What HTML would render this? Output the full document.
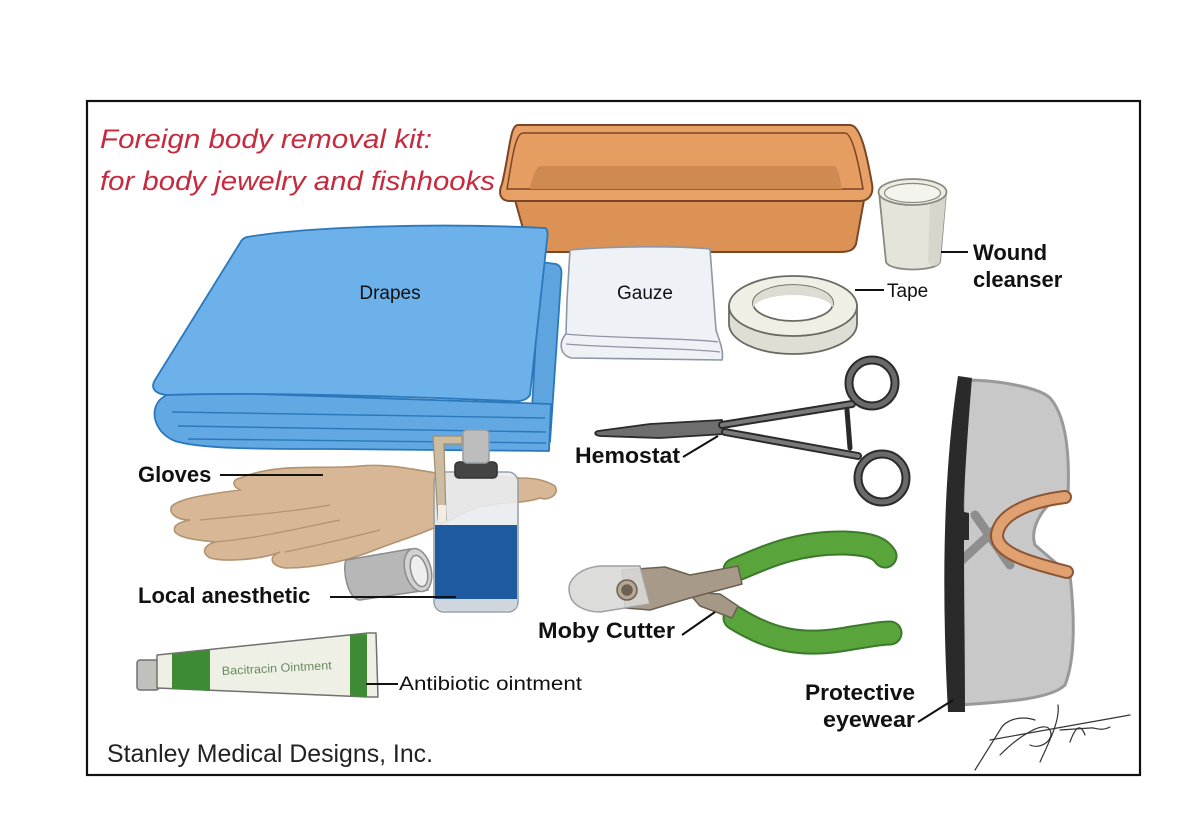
<!DOCTYPE html>
<html><head><meta charset="utf-8"><style>
html,body{margin:0;padding:0;background:#fff;}
svg{display:block;}
.lb{font-family:"Liberation Sans",Arial,sans-serif;font-weight:bold;font-size:22px;fill:#111;}
.lr{font-family:"Liberation Sans",Arial,sans-serif;font-size:19px;fill:#111;}
</style></head><body>
<svg width="1200" height="840" viewBox="0 0 1200 840" xmlns="http://www.w3.org/2000/svg">
<rect width="1200" height="840" fill="#fff"/>
<rect x="87" y="101" width="1053" height="674" fill="#fff" stroke="#111" stroke-width="2.2"/>

<!-- Title -->
<g font-family="'Liberation Sans',sans-serif" font-style="italic" font-size="27" fill="#c62a3e">
<text x="100" y="148" textLength="332" lengthAdjust="spacingAndGlyphs">Foreign body removal kit:</text>
<text x="100" y="190" textLength="395" lengthAdjust="spacingAndGlyphs">for body jewelry and fishhooks</text>
</g>

<!-- Basin -->
<g stroke="#7a4626" stroke-width="2" stroke-linejoin="round">
<path d="M515,200 L864,200 L856,244 C854,250 849,252 840,252 L540,252 C532,252 528,248 527,243 Z" fill="#dc9255"/>
<path d="M518,125 L850,125 C860,125 866,150 872,184 C874,195 868,201 860,201 L510,201 C500,201 498,193 502,184 C510,150 510,125 518,125 Z" fill="#e7a065"/>
<path d="M523,133 L845,133 C852,133 858,160 863,189 L507,189 C512,160 515,133 523,133 Z" fill="#e59d62" stroke-width="1.5"/>
<path d="M541,166 L834,166 C838,166 840,178 842,189 L530,189 C532,178 536,166 541,166 Z" fill="#cf8a52" stroke="none"/>
</g>

<!-- Wound cleanser cup -->
<g stroke="#8a8a80" stroke-width="1.8">
<path d="M879,192 L886,262 C890,272 936,272 940,262 L946,192 Z" fill="#e4e4da"/>
<path d="M930,200 L928,262 C932,268 938,266 940,262 L946,195 Z" fill="#d6d6cc" stroke="none"/>
<ellipse cx="912.5" cy="192" rx="34" ry="13" fill="#ececE4"/>
<ellipse cx="912.5" cy="193" rx="28" ry="9.5" fill="#f4f4ee" stroke-width="1.2"/>
</g>
<line x1="941" y1="252" x2="968" y2="252" stroke="#111" stroke-width="2"/>
<text class="lb" x="973" y="260">Wound</text>
<text class="lb" x="973" y="287">cleanser</text>

<!-- Drapes -->
<g stroke="#2b78bb" stroke-width="1.8" stroke-linejoin="round">
<path d="M540,262 L556,264 C562,266 562,272 561,280 L550,442 L530,446 Z" fill="#5ea5df"/>
<path d="M165,396 C148,405 152,432 175,441 C200,449 260,449 330,449 L549,451 L551,404 L172,391 Z" fill="#62a8e2"/>
<path d="M172,412 L545,418 M178,426 L546,432 M188,439 L546,443" fill="none" stroke-width="1.4"/>
<path d="M247,237 C300,228 420,222 545,228 C548,229 548,235 547,240 L530,395 C527,400 520,402 510,401 C400,396 250,392 170,395 C155,395 150,388 155,380 L240,243 C242,239 244,238 247,237 Z" fill="#6cb1e9"/>
</g>
<text class="lr" x="390" y="299" text-anchor="middle" font-size="18" fill="#1a2a44">Drapes</text>

<!-- Gauze -->
<g stroke="#8e96a4" stroke-width="1.6" stroke-linejoin="round">
<path d="M570,250 C610,246 680,246 710,249 L716,330 C720,342 724,352 722,360 L572,358 C560,356 558,342 566,334 L567,300 Z" fill="#eef1f6"/>
<path d="M566,334 C600,338 690,338 718,342 M566,344 C610,348 690,348 720,352" fill="none" stroke-width="1.3"/>
</g>
<text class="lr" x="645" y="299" text-anchor="middle" font-size="18" fill="#1a2230">Gauze</text>

<!-- Tape -->
<g stroke="#6a6a62" stroke-width="1.8">
<path d="M729,306 L729,324 A64,30 0 0 0 857,324 L857,306 Z" fill="#deded4"/>
<ellipse cx="793" cy="306" rx="64" ry="30" fill="#efefe6"/>
<ellipse cx="793" cy="303" rx="40" ry="18" fill="#fff"/>
<path d="M753,303 A40,18 0 0 1 833,303 L833,309 A40,14 0 0 0 753,309 Z" fill="#dcdcd2" stroke="none"/>
</g>
<line x1="855" y1="290" x2="884" y2="290" stroke="#111" stroke-width="2"/>
<text class="lr" x="887" y="297" font-size="18">Tape</text>

<!-- Gloves -->
<path d="M240,478 C280,462 320,470 360,466 C400,462 440,478 470,475 L520,478 C535,478 545,480 555,486 C560,495 548,501 540,498 C520,505 500,500 470,510 L440,525 C420,535 400,540 380,548 C350,560 320,568 285,568 C270,566 268,556 280,552 C260,560 225,562 210,558 C200,552 205,545 215,542 C195,540 180,538 175,532 C172,525 180,522 190,520 C175,520 168,512 172,506 C180,498 210,494 240,490 C232,486 232,480 240,478 Z" fill="#d8b796" stroke="#b3926f" stroke-width="1.6"/>
<path d="M200,520 C250,515 290,512 330,505 M215,542 C260,538 300,528 340,520 M285,552 C320,545 360,535 380,530" fill="none" stroke="#b3926f" stroke-width="1.2"/>
<line x1="220" y1="475" x2="323" y2="475" stroke="#111" stroke-width="2"/>
<text class="lb" x="138" y="482">Gloves</text>

<!-- Cap of bottle -->
<g stroke="#8c8c8c" stroke-width="1.5">
<path d="M346,560 L410,549 L428,590 L360,600 C348,600 342,570 346,560 Z" fill="#b7b7b7"/>
<ellipse cx="418" cy="570" rx="13" ry="22" transform="rotate(-15 418 570)" fill="#d2d2d2"/>
<ellipse cx="419" cy="571" rx="8" ry="16" transform="rotate(-15 419 571)" fill="#eee"/>
</g>

<!-- Bottle -->
<g stroke="#9aa0a6" stroke-width="1.6">
<rect x="434" y="472" width="84" height="140" rx="10" fill="#e9ecef" fill-opacity="0.9"/>
<rect x="435" y="525" width="82" height="74" fill="#1d5aa0" stroke="none"/>
<path d="M435,599 L517,599 L517,604 C517,610 510,611 500,611 L450,611 C440,611 435,608 435,604 Z" fill="#cfd6dd" stroke="none"/>
<rect x="455" y="462" width="42" height="16" rx="4" fill="#444" stroke="#333"/>
<rect x="463" y="430" width="26" height="33" rx="4" fill="#bdbdbd"/>
<path d="M433,436 L462,436 L462,444 L444,444 L446,520 L438,520 Z" fill="#cbbca2" stroke="#a08e70" stroke-width="1.2"/>
<rect x="438" y="505" width="8" height="16" fill="#f1ede4" stroke="none"/>
</g>
<line x1="330" y1="597" x2="456" y2="597" stroke="#111" stroke-width="2"/>
<text class="lb" x="138" y="603">Local anesthetic</text>

<!-- Ointment tube -->
<g stroke="#707070" stroke-width="1.5" stroke-linejoin="round">
<rect x="137" y="660" width="22" height="30" rx="3" fill="#c0c0bc"/>
<path d="M157,655 L368,633 L376,633 L378,697 L368,697 L157,688 Z" fill="#eef0e6"/>
<path d="M172,654 L210,650 L210,691 L172,689 Z" fill="#3f8a35" stroke="none"/>
<path d="M350,635 L367,634 L367,697 L350,696 Z" fill="#3f8a35" stroke="none"/>
</g>
<text x="222" y="675" font-family="'Liberation Sans',sans-serif" font-size="12" fill="#6a8a60" transform="rotate(-3 222 675)" textLength="110" lengthAdjust="spacingAndGlyphs">Bacitracin Ointment</text>
<line x1="366" y1="684" x2="398" y2="684" stroke="#111" stroke-width="2"/>
<text class="lr" x="399" y="690" textLength="183" lengthAdjust="spacingAndGlyphs">Antibiotic ointment</text>

<!-- Hemostat -->
<g stroke="#2a2a2a" stroke-linejoin="round" stroke-linecap="round">
<path d="M598,431 L650,424 L722,420 L725,434 L660,438 L600,436 C594,435 594,432 598,431 Z" fill="#6e6e6e" stroke-width="1.8"/>
<path d="M722,425 L852,404" fill="none" stroke-width="8"/>
<path d="M722,425 L852,404" fill="none" stroke="#7a7a7a" stroke-width="4"/>
<path d="M725,432 L858,456" fill="none" stroke-width="8"/>
<path d="M725,432 L858,456" fill="none" stroke="#7a7a7a" stroke-width="4"/>
<path d="M847,410 L850,448" fill="none" stroke-width="5"/>
<circle cx="872" cy="383" r="23" fill="none" stroke-width="9"/>
<circle cx="872" cy="383" r="23" fill="none" stroke="#6a6a6a" stroke-width="5"/>
<circle cx="882" cy="478" r="24" fill="none" stroke-width="9"/>
<circle cx="882" cy="478" r="24" fill="none" stroke="#6a6a6a" stroke-width="5"/>
</g>
<line x1="683" y1="457" x2="718" y2="436" stroke="#111" stroke-width="2"/>
<text class="lb" x="575" y="463" textLength="105" lengthAdjust="spacingAndGlyphs">Hemostat</text>

<!-- Moby cutter -->
<g stroke-linecap="round" fill="none">
<path d="M735,570 C770,555 800,542 845,543 C870,544 880,548 885,556" stroke="#3a7a2a" stroke-width="25"/>
<path d="M735,570 C770,555 800,542 845,543 C870,544 880,548 885,556" stroke="#5aa43c" stroke-width="21"/>
<path d="M735,618 C770,640 800,646 840,640 C865,636 880,633 890,633" stroke="#3a7a2a" stroke-width="25"/>
<path d="M735,618 C770,640 800,646 840,640 C865,636 880,633 890,633" stroke="#5aa43c" stroke-width="21"/>
</g>
<g stroke="#6c6050" stroke-width="1.5" stroke-linejoin="round">
<path d="M688,592 L720,594 L738,606 L732,618 L700,606 Z" fill="#a59886"/>
<path d="M622,570 L665,567 L690,575 L738,566 L742,584 L690,598 L650,610 L625,608 Z" fill="#a89a88"/>
<path d="M570,595 C565,580 580,568 600,566 L640,566 L650,604 L600,612 C585,612 572,605 570,595 Z" fill="#d8d8d6" fill-opacity="0.9" stroke="#a0a0a0"/>
<circle cx="627" cy="590" r="10" fill="#b5a894"/>
<circle cx="627" cy="590" r="5" fill="#6c6050"/>
</g>
<line x1="682" y1="635" x2="715" y2="612" stroke="#111" stroke-width="2"/>
<text class="lb" x="538" y="638" textLength="137" lengthAdjust="spacingAndGlyphs">Moby Cutter</text>

<!-- Eyewear -->
<path d="M965,380 C1000,380 1040,388 1050,398 C1065,415 1070,450 1068,495 L1055,500 C1040,510 1030,530 1035,545 L1070,575 C1075,620 1075,660 1065,685 C1050,700 1000,702 960,705 Z" fill="#c8c8c8" stroke="#999" stroke-width="3"/>
<path d="M975,515 L1010,565 M962,560 L1000,525" stroke="#8e8e8e" stroke-width="9" stroke-linecap="round"/>
<path d="M1065,497 C1040,500 1000,510 997,535 C996,555 1040,565 1067,572" fill="none" stroke="#8a5634" stroke-width="14" stroke-linecap="round"/>
<path d="M1065,497 C1040,500 1000,510 997,535 C996,555 1040,565 1067,572" fill="none" stroke="#e0a070" stroke-width="10" stroke-linecap="round"/>
<path d="M958,376 L972,378 C966,450 963,510 964,512 L969,513 L969,540 L964,540 C964,600 965,660 965,712 L948,712 C942,600 942,480 958,376 Z" fill="#2a2a2a"/>
<line x1="918" y1="722" x2="953" y2="700" stroke="#111" stroke-width="2"/>
<text class="lb" x="805" y="700" textLength="110" lengthAdjust="spacingAndGlyphs">Protective</text>
<text class="lb" x="823" y="727" textLength="92" lengthAdjust="spacingAndGlyphs">eyewear</text>

<!-- Signature -->
<g fill="none" stroke="#333" stroke-width="1.2" stroke-linecap="round">
<path d="M975,770 L1000,730 C1005,720 1020,715 1035,720"/>
<path d="M990,740 L1130,715"/>
<path d="M1000,755 C1020,735 1045,720 1050,730 C1055,740 1040,750 1030,745"/>
<path d="M1058,705 C1060,720 1050,740 1040,762"/>
<path d="M1060,730 L1090,728 C1095,727 1100,732 1110,727"/>
<path d="M1070,742 C1075,728 1080,722 1085,735"/>
</g>

<text x="107" y="762" font-family="'Liberation Sans',sans-serif" font-size="25" fill="#222" textLength="326" lengthAdjust="spacingAndGlyphs">Stanley Medical Designs, Inc.</text>
</svg>
</body></html>
